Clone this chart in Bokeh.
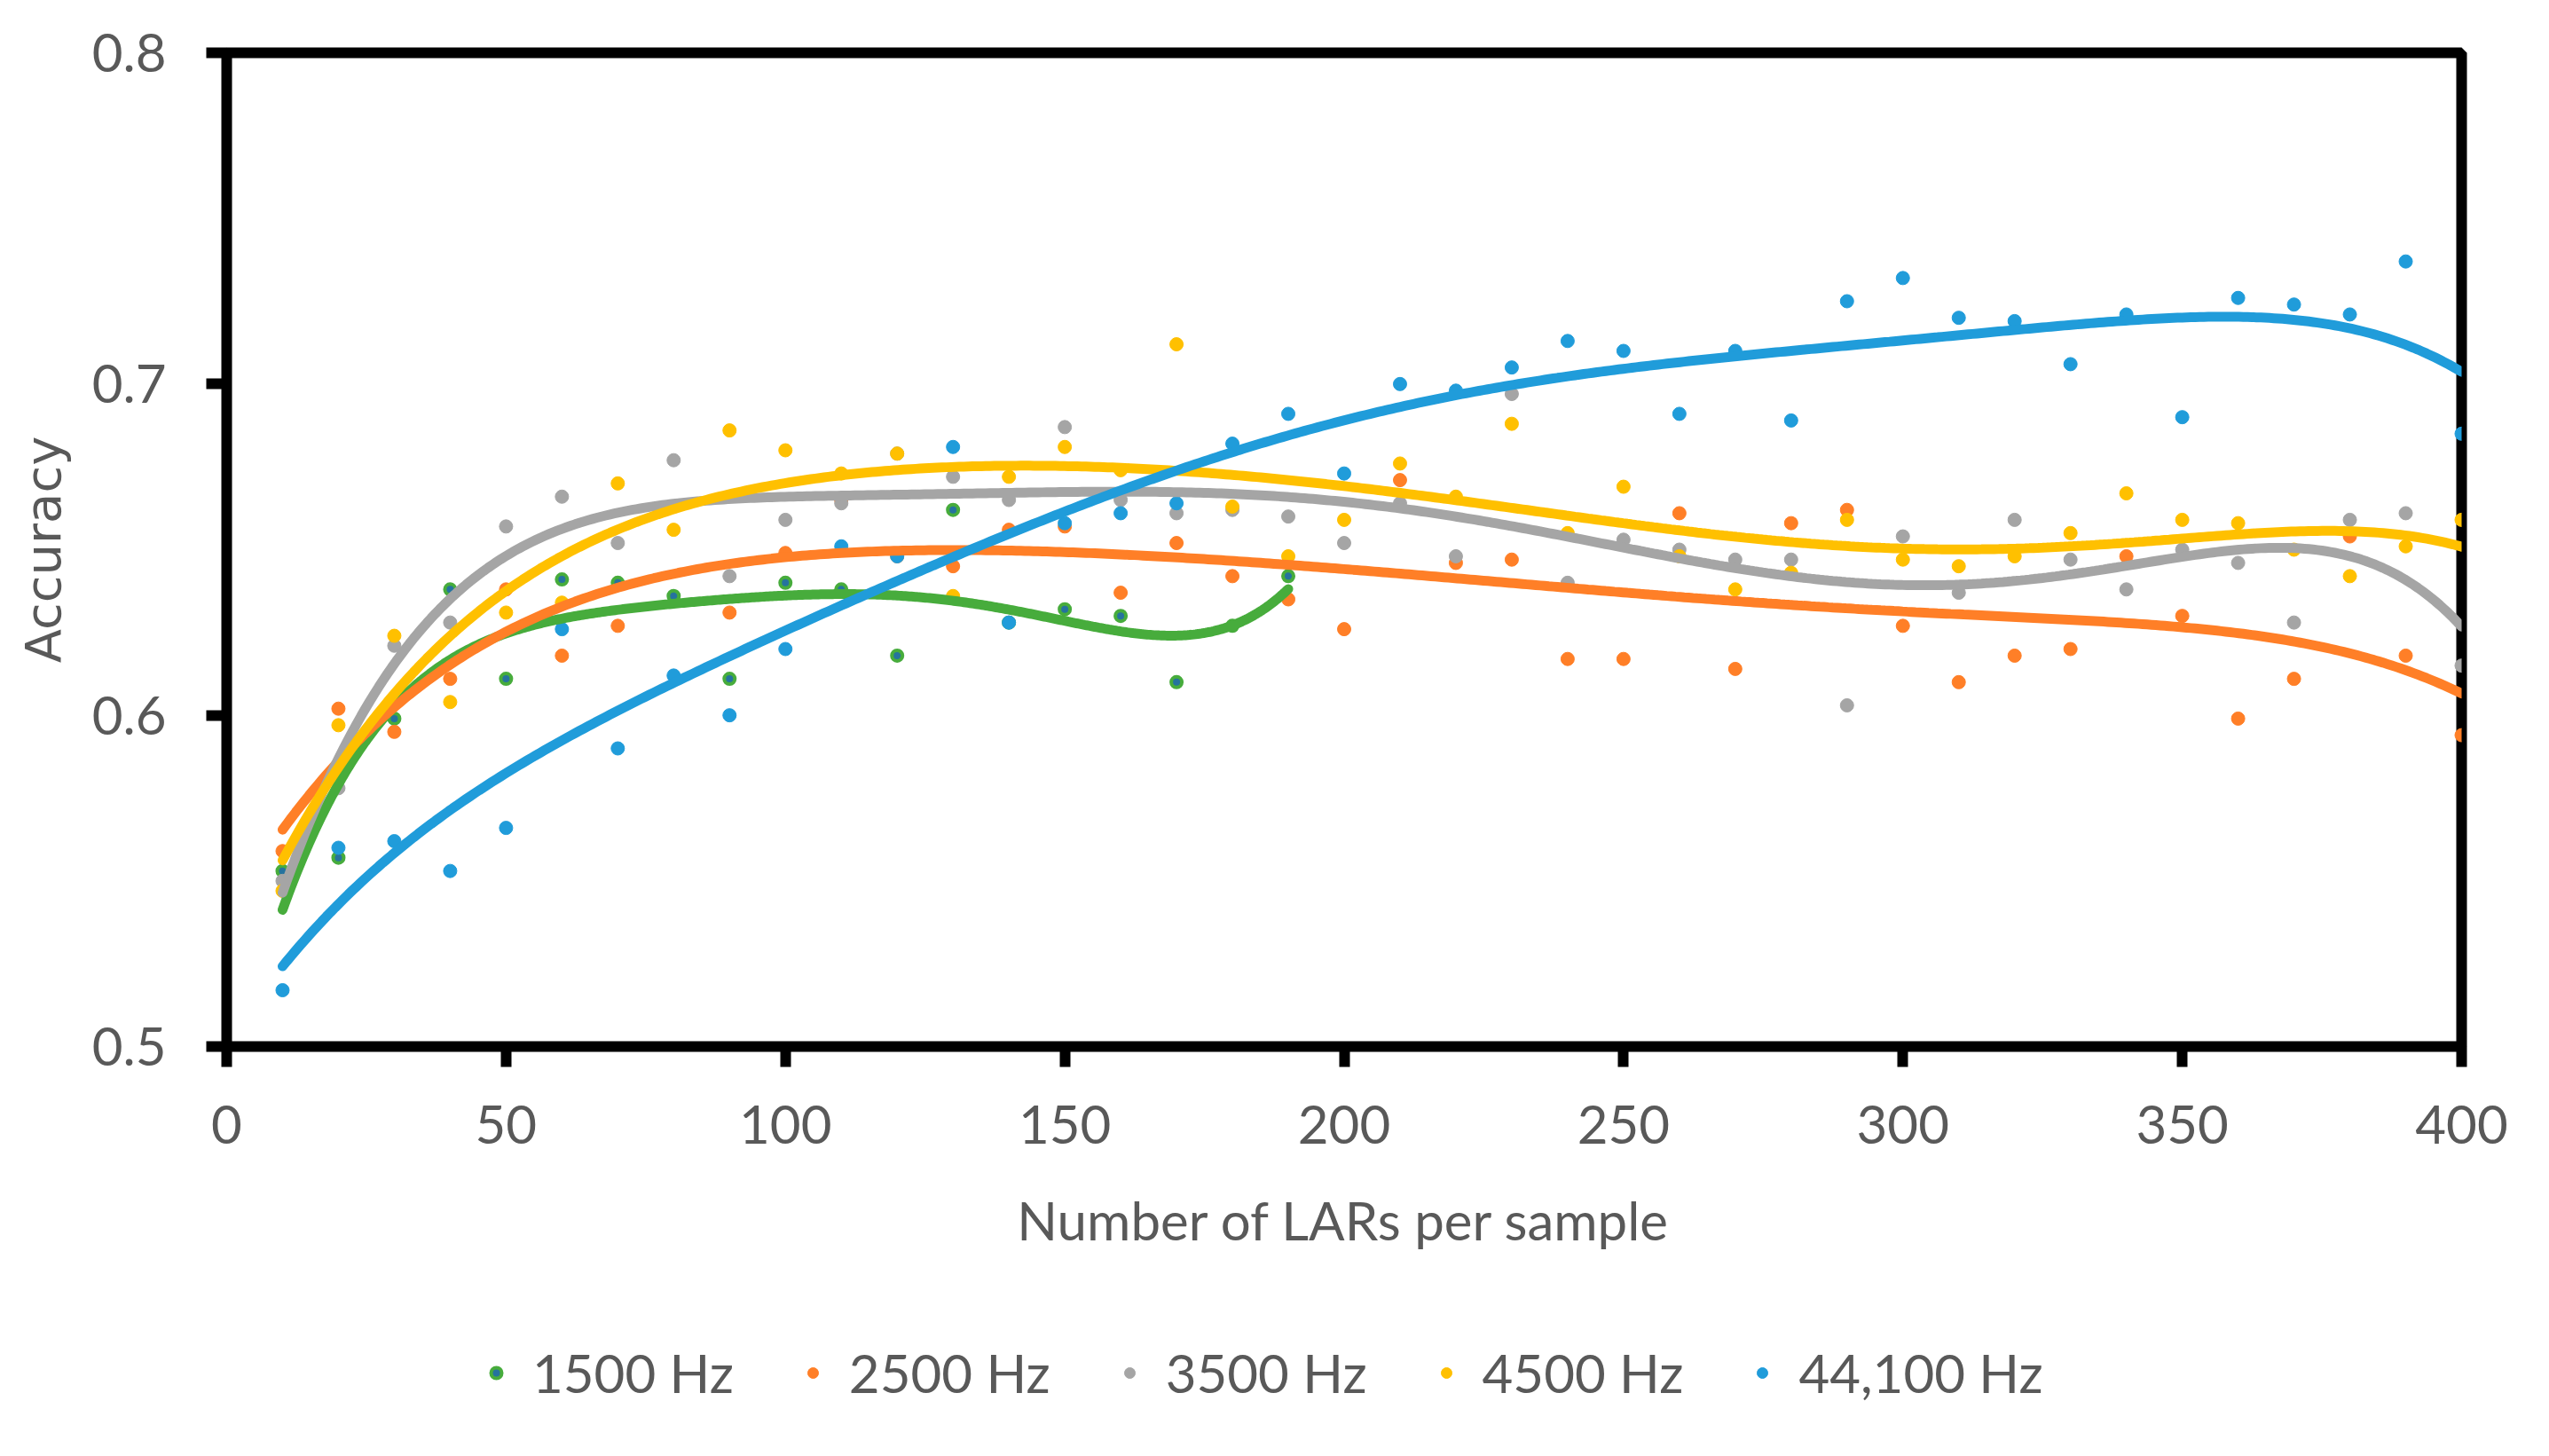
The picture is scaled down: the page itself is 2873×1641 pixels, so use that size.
import numpy as np
from bokeh.plotting import figure
from bokeh.layouts import column
from bokeh.models import Legend, LegendItem, FixedTicker, Range1d, ColumnDataSource
from bokeh.embed import file_html
from bokeh.resources import INLINE

x_all = [10, 20, 30, 40, 50, 60, 70, 80, 90, 100, 110, 120, 130, 140, 150, 160, 170, 180, 190, 200,
         210, 220, 230, 240, 250, 260, 270, 280, 290, 300, 310, 320, 330, 340, 350, 360, 370, 380, 390, 400]
x_1500 = x_all[:19]

acc_1500 = [0.553, 0.557, 0.599, 0.638, 0.611, 0.641, 0.640, 0.636, 0.611, 0.640,
            0.638, 0.618, 0.662, 0.628, 0.632, 0.630, 0.610, 0.627, 0.642]
acc_2500 = [0.559, 0.602, 0.595, 0.611, 0.638, 0.618, 0.627, 0.663, 0.631, 0.649,
            0.665, 0.648, 0.645, 0.656, 0.657, 0.637, 0.652, 0.642, 0.635, 0.626,
            0.671, 0.646, 0.647, 0.617, 0.617, 0.661, 0.614, 0.658, 0.662, 0.627,
            0.610, 0.618, 0.620, 0.648, 0.630, 0.599, 0.611, 0.654, 0.618, 0.594]
acc_3500 = [0.550, 0.578, 0.621, 0.628, 0.657, 0.666, 0.652, 0.677, 0.642, 0.659,
            0.664, 0.679, 0.672, 0.665, 0.687, 0.665, 0.661, 0.662, 0.660, 0.652,
            0.664, 0.648, 0.697, 0.640, 0.653, 0.650, 0.647, 0.647, 0.603, 0.654,
            0.637, 0.659, 0.647, 0.638, 0.650, 0.646, 0.628, 0.659, 0.661, 0.615]
acc_4500 = [0.547, 0.597, 0.624, 0.604, 0.631, 0.634, 0.670, 0.656, 0.686, 0.680,
            0.673, 0.679, 0.636, 0.672, 0.681, 0.674, 0.712, 0.663, 0.648, 0.659,
            0.676, 0.666, 0.688, 0.655, 0.669, 0.648, 0.638, 0.643, 0.659, 0.647,
            0.645, 0.648, 0.655, 0.667, 0.659, 0.658, 0.650, 0.642, 0.651, 0.659]
acc_44100 = [0.517, 0.560, 0.562, 0.553, 0.566, 0.626, 0.590, 0.612, 0.600, 0.620,
             0.651, 0.648, 0.681, 0.628, 0.658, 0.661, 0.664, 0.682, 0.691, 0.673,
             0.700, 0.698, 0.705, 0.713, 0.710, 0.691, 0.710, 0.689, 0.725, 0.732,
             0.720, 0.719, 0.706, 0.721, 0.690, 0.726, 0.724, 0.721, 0.737, 0.685]

series_names = ["1500 Hz", "2500 Hz", "3500 Hz", "4500 Hz", "44,100 Hz"]
series_x = [x_1500, x_all, x_all, x_all, x_all]
series_y = [acc_1500, acc_2500, acc_3500, acc_4500, acc_44100]
trend_order = [5, 6, 6, 6, 6]
colors = ["#47AC3C", "#FF7F27", "#A5A5A5", "#FFC000", "#209CDA"]

x_ticks = [0, 50, 100, 150, 200, 250, 300, 350, 400]
y_ticks = [0.5, 0.6, 0.7, 0.8]

FONT = "Lato"
TXT = "#595959"


def add_markers(fig, name, src, c):
    if name == "1500 Hz":
        return fig.scatter("x", "y", source=src, size=12, fill_color="#25739E", line_color=c, line_width=4)
    return fig.scatter("x", "y", source=src, size=15, fill_color=c, line_color=c, line_width=1)


sources = [ColumnDataSource(dict(x=xs, y=ys)) for xs, ys in zip(series_x, series_y)]

p = figure(width=2857, height=1460, x_range=Range1d(0, 400), y_range=Range1d(0.5, 0.8),
           output_backend="svg", toolbar_location=None,
           min_border_left=255, min_border_right=83, min_border_top=59, min_border_bottom=281)
p.background_fill_color = "white"
p.border_fill_color = "white"
p.outline_line_color = "black"
p.outline_line_width = 12
p.xgrid.visible = False
p.ygrid.visible = False

for ax in (p.xaxis[0], p.yaxis[0]):
    ax.axis_line_color = None
    ax.major_tick_line_color = "black"
    ax.major_tick_line_width = 12
    ax.major_tick_out = 23
    ax.major_tick_in = 0
    ax.minor_tick_line_color = None
    ax.major_label_text_font = FONT
    ax.major_label_text_font_size = "60px"
    ax.major_label_text_color = TXT
    ax.axis_label_text_font_style = "normal"
    ax.axis_label_text_color = TXT

p.xaxis.ticker = FixedTicker(ticks=x_ticks)
p.yaxis.ticker = FixedTicker(ticks=y_ticks)
p.xaxis.major_label_standoff = 43
p.yaxis.major_label_standoff = 45
p.xaxis.axis_label = "Number of LARs per sample"
p.xaxis.axis_label_text_font = FONT
p.xaxis.axis_label_text_font_size = "60px"
p.xaxis.axis_label_standoff = 47
p.yaxis.axis_label = "Accuracy"
p.yaxis.axis_label_text_font = "DejaVu Sans"
p.yaxis.axis_label_text_font_size = "56px"
p.yaxis.axis_label_standoff = 20

for name, src, c in zip(series_names, sources, colors):
    add_markers(p, name, src, c)

for xs, ys, c, k in zip(series_x, series_y, colors, trend_order):
    poly = np.polynomial.Polynomial.fit(np.array(xs, float), np.array(ys, float), k)
    xx = np.linspace(min(xs), max(xs), 500)
    p.line(xx, poly(xx), line_color=c, line_width=11, line_cap="round")

# legend strip below the chart (same data, ranges chosen so no point falls in view)
p2 = figure(width=2857, height=165, x_range=Range1d(-2, -1), y_range=Range1d(-2, -1),
            output_backend="svg", toolbar_location=None,
            min_border_left=0, min_border_right=0, min_border_top=0, min_border_bottom=0)
p2.axis.visible = False
p2.xgrid.visible = False
p2.ygrid.visible = False
p2.outline_line_color = None
p2.background_fill_color = "white"
p2.border_fill_color = "white"

legend_renderers = [add_markers(p2, n, src, c) for n, src, c in zip(series_names, sources, colors)]
legend = Legend(items=[LegendItem(label=n, renderers=[r]) for n, r in zip(series_names, legend_renderers)],
                orientation="horizontal", location=(289, 42),
                glyph_width=30, glyph_height=30, label_standoff=26, spacing=74,
                label_text_font=FONT, label_text_font_size="60px", label_text_color=TXT,
                border_line_color=None, background_fill_alpha=0, padding=0, margin=0)
p2.add_layout(legend, "center")

layout = column(p, p2, spacing=0)
open("out.html", "w").write(file_html(layout, INLINE))
